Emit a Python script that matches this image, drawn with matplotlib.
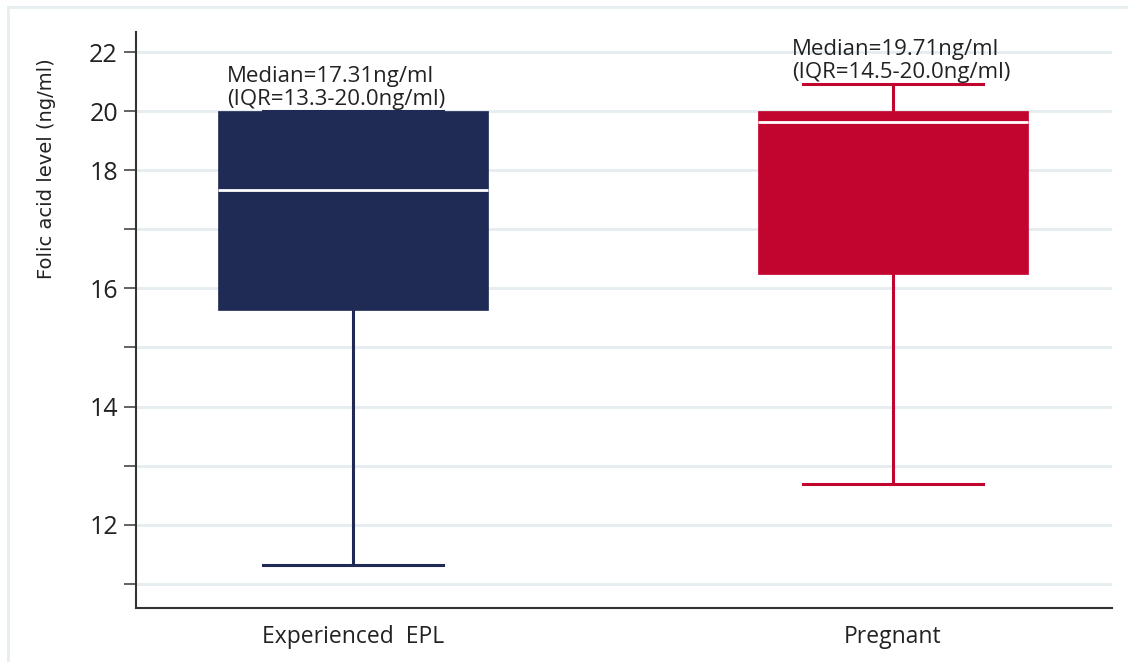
import numpy as np
import matplotlib
matplotlib.use("Agg")
import matplotlib.pyplot as plt
from matplotlib.lines import Line2D

# data (axis units as labelled)
groups = ["Experienced  EPL", "Pregnant"]
whis_low = [11.32, 12.69]
q1 = [15.64, 16.25]
medians = [17.67, 19.64]
q3 = [20.0, 20.0]
whis_high = [20.0, 20.92]
notes = ["Median=17.31ng/ml\n(IQR=13.3-20.0ng/ml)",
         "Median=19.71ng/ml\n(IQR=14.5-20.0ng/ml)"]
colors = ["#1F2B54", "#C2052F"]

major_ticks = [12, 14, 16, 18, 20, 22]
minor_ticks = [11, 13, 15, 17]


# axis in the original is squeezed above 18
def fwd(v):
    v = np.asarray(v, dtype=float)
    return np.where(v <= 18, v, 18 + (v - 18) / 2)


def inv(t):
    t = np.asarray(t, dtype=float)
    return np.where(t <= 18, t, 18 + (t - 18) * 2)


fig = plt.figure(figsize=(11.28, 6.62), dpi=100)
ax = fig.add_axes([136 / 1128, 1 - 608 / 662, (1112 - 136) / 1128, (608 - 32) / 662])
ax.set_yscale("function", functions=(fwd, inv))

stats = []
for i in range(len(groups)):
    stats.append(dict(whislo=whis_low[i], q1=q1[i], med=medians[i],
                      q3=q3[i], whishi=whis_high[i], fliers=[]))

pos = np.arange(1, len(groups) + 1)
bp = ax.bxp(stats, positions=pos, widths=0.5, capwidths=0.333,
            patch_artist=True, showfliers=False)
for i, c in enumerate(colors):
    bp["boxes"][i].set(facecolor=c, edgecolor=c, linewidth=0.5, zorder=3)
    bp["medians"][i].set(color="white", linewidth=2, zorder=4)
    for ln in bp["whiskers"][2 * i:2 * i + 2] + bp["caps"][2 * i:2 * i + 2]:
        ln.set(color=c, linewidth=2.2, zorder=2)

# labels above each box
text_dx = [-0.232, -0.186]
for i in range(len(groups)):
    top = max(q3[i], whis_high[i])
    ax.annotate(notes[i], xy=(pos[i] + text_dx[i], top), xytext=(0, 1),
                textcoords="offset points", ha="left", va="bottom",
                fontsize=16, family="Open Sans", color="#222222",
                linespacing=1.08)

ax.set_xlim(0.599, 2.406)
ax.set_ylim(10.59, 22.68)
ax.set_yticks(major_ticks)
ax.set_yticks(minor_ticks, minor=True)
ax.set_yticklabels([str(t) for t in major_ticks])
ax.set_xticks(pos)
ax.set_xticklabels(groups)

ax.grid(True, axis="y", which="both", color="#E5EDF0", linewidth=2)
ax.set_axisbelow(True)
for s in ["top", "right"]:
    ax.spines[s].set_visible(False)
for s in ["left", "bottom"]:
    ax.spines[s].set_color("#333333")
    ax.spines[s].set_linewidth(1.5)

ax.tick_params(axis="y", which="both", length=9, width=1.3, color="#555555",
               pad=4, labelsize=18, labelcolor="#222222")
ax.tick_params(axis="x", length=0, pad=12, labelsize=16.5, labelcolor="#222222")
for lab in ax.get_yticklabels() + ax.get_xticklabels():
    lab.set_family("Open Sans")

fig.text(46 / 1128, 1 - 169 / 662, "Folic acid level (ng/ml)", rotation=90,
         ha="center", va="center", fontsize=14,
         family=["Liberation Sans Narrow", "DejaVu Sans"], color="#222222")

# faint frame around the picture (top and left only)
fig.add_artist(Line2D([8 / 1128, 1], [1 - 7 / 662, 1 - 7 / 662],
                      transform=fig.transFigure, color="#E6EEF0", linewidth=2))
fig.add_artist(Line2D([8 / 1128, 8 / 1128], [0, 1 - 7 / 662],
                      transform=fig.transFigure, color="#E6EEF0", linewidth=2))

fig.savefig("out.png", dpi=100)
